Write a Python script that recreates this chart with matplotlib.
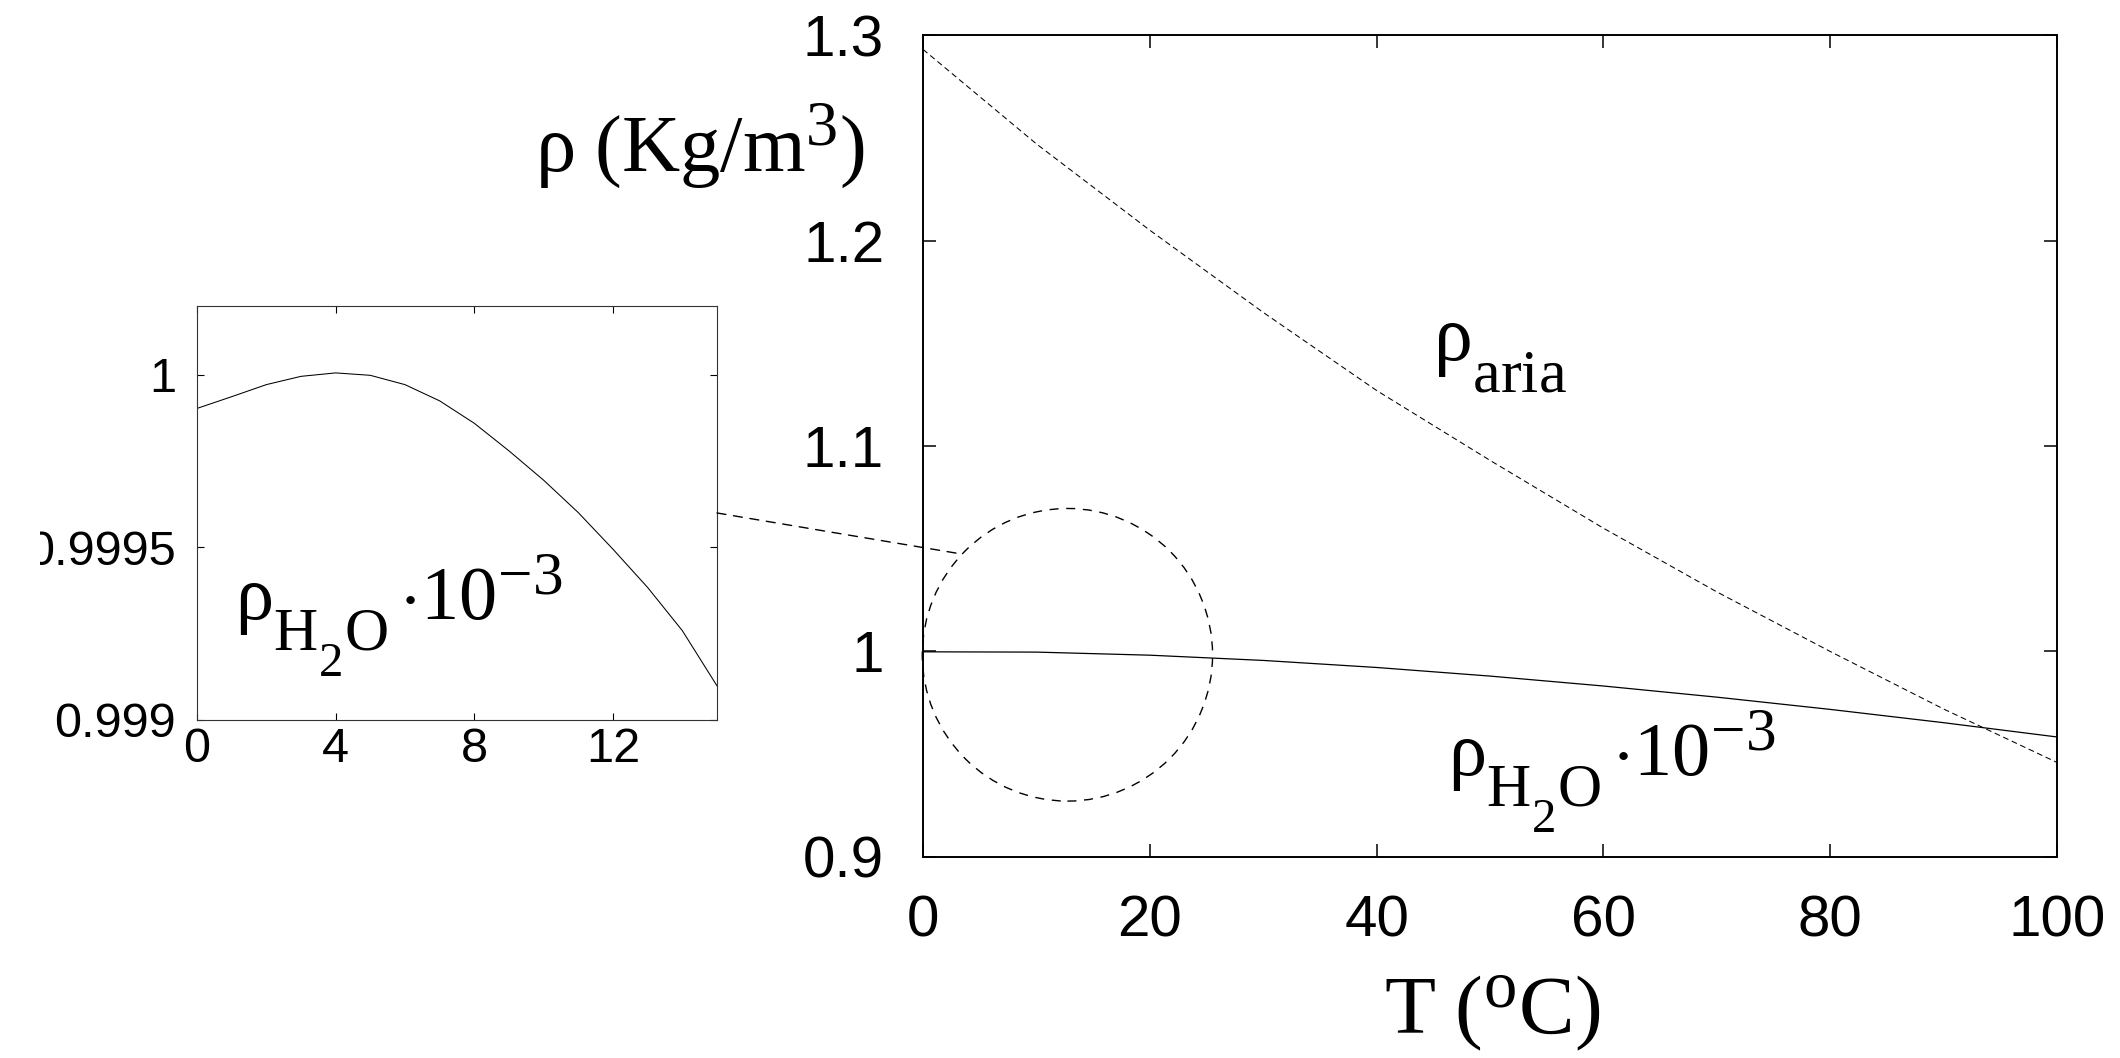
import matplotlib
matplotlib.use("Agg")
import matplotlib.pyplot as plt
import matplotlib._mathtext as mathtext_internal
from matplotlib.patches import Ellipse, ConnectionPatch
from matplotlib.transforms import Bbox, TransformedBbox

plt.rcParams['font.family'] = 'Liberation Sans'
plt.rcParams['mathtext.fontset'] = 'custom'
plt.rcParams['mathtext.rm'] = 'Liberation Serif'
plt.rcParams['mathtext.it'] = 'Liberation Serif:italic'
plt.rcParams['mathtext.bf'] = 'Liberation Serif:bold'
# gnuplot-style sub/superscripts: a bit bigger and dropped lower than mathtext's default
if hasattr(mathtext_internal, 'SHRINK_FACTOR'):
    mathtext_internal.SHRINK_FACTOR = 0.8
if hasattr(mathtext_internal, 'FontConstantsBase'):
    mathtext_internal.FontConstantsBase.sub1 = 0.9

# main plot: density vs temperature
temp = [0, 10, 20, 30, 40, 50, 60, 70, 80, 90, 100]
rho_air = [1.293, 1.247, 1.205, 1.165, 1.127, 1.093, 1.060, 1.029, 1.000, 0.972, 0.946]
rho_water = [0.99984, 0.99970, 0.99820, 0.99565, 0.99222, 0.98803, 0.98320,
             0.97778, 0.97182, 0.96535, 0.95840]

# inset: water near 4 C
temp_in = list(range(0, 16))
rho_water_in = [0.999903, 0.999937, 0.999972, 0.999996, 1.000006, 0.999999,
                0.999972, 0.999925, 0.999860, 0.999780, 0.999695, 0.999601,
                0.999495, 0.999384, 0.999259, 0.999099]

xticks_main = [0, 20, 40, 60, 80, 100]
yticks_main = [0.9, 1.0, 1.1, 1.2, 1.3]
ylabels_main = ['0.9', '1', '1.1', '1.2', '1.3']
xticks_in = [0, 4, 8, 12]
yticks_in = [0.999, 0.9995, 1.0]
ylabels_in = ['0.999', '0.9995', '1']

water_lbl = r'$\mathrm{\rho_{H_{2}O}\/{\cdot}10^{-3}}$'

fig = plt.figure(figsize=(21.2, 10.58), dpi=100)

ax = fig.add_axes([0.4354, 0.19, 0.5349, 0.7769])
ax.plot(temp, rho_water, color='black', lw=0.9)
ax.plot(temp, rho_air, color='black', lw=0.75, dashes=(5.5, 3.5))
ax.set_xlim(0, 100)
ax.set_ylim(0.9, 1.3)
ax.set_xticks(xticks_main)
ax.set_yticks(yticks_main)
ax.set_yticklabels(ylabels_main)
ax.tick_params(direction='in', length=9.4, width=1.1, labelsize=42,
               top=True, right=True)
ax.tick_params(axis='x', pad=27)
ax.tick_params(axis='y', pad=28)
for s in ax.spines.values():
    s.set_linewidth(1.4)

# circle marking the zoomed region
circ = Ellipse((12.73, 0.9984), 25.6, 0.1424, fill=False, edgecolor='black',
               lw=1.0, linestyle=(0, (6.5, 5.5)), clip_on=False)
ax.add_patch(circ)

ax.text(44.97, 1.1418, r'$\mathrm{\rho_{aria}}$', fontsize=56, va='baseline')
ax.text(46.3, 0.9395, water_lbl, fontsize=55, va='baseline')

fig.text(535 / 2120, (1058 - 171) / 1058, r'$\mathrm{\rho\ (Kg/m^{3})}$',
         fontsize=58, ha='left', va='baseline')
fig.text(1492 / 2120, (1058 - 1034) / 1058, r'$\mathrm{T\ (^{o}C)}$',
         fontsize=60, ha='center', va='baseline')

# inset
axi = fig.add_axes([0.0929, 0.3195, 0.2453, 0.3913])
axi.plot(temp_in, rho_water_in, color='black', lw=0.75)
axi.set_xlim(0, 15)
axi.set_ylim(0.999, 1.0002)
axi.set_xticks(xticks_in)
axi.set_yticks(yticks_in)
axi.set_yticklabels(ylabels_in)
axi.tick_params(direction='in', length=5, width=0.8, labelsize=35,
                top=True, right=True)
axi.tick_params(axis='x', pad=5)
axi.tick_params(axis='y', pad=15)
for s in axi.spines.values():
    s.set_linewidth(0.8)
    s.set_edgecolor('#333333')

clip = TransformedBbox(Bbox([[40 / 2120, 0], [1, 1]]), fig.transFigure)
for lab in axi.get_yticklabels():
    lab.set_clip_on(True)
    lab.set_clip_box(clip)

axi.text(1.09, 0.999288, water_lbl, fontsize=55, va='baseline')

con = ConnectionPatch(xyA=(15, 0.9996), coordsA=axi.transData,
                      xyB=(3.0, 1.0478), coordsB=ax.transData,
                      color='black', lw=1.0, linestyle=(0, (6.5, 5.5)))
fig.add_artist(con)

fig.savefig('out.png', dpi=100)
